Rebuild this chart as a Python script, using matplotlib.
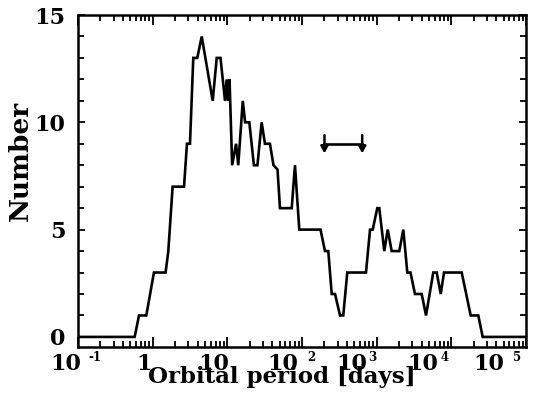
import numpy as np
import matplotlib
matplotlib.use("Agg")
import matplotlib.pyplot as plt
import matplotlib.transforms as mtransforms

# running count of systems vs orbital period
period = [0.1, 0.574, 0.656, 0.822, 1.04, 1.49, 1.62, 1.85, 2.63, 2.88, 3.16,
          3.50, 3.96, 4.54, 6.37, 7.21, 8.10, 9.31, 9.80, 10.2, 10.7, 11.6,
          13.1, 14.0, 16.1, 17.3, 19.7, 22.7, 25.3, 28.8, 31.9, 37.2, 41.5,
          47.0, 50.7, 72.8, 80.5, 92.0, 177, 203, 225, 250, 277, 323, 357,
          404, 719, 815, 885, 1019, 1084, 1265, 1406, 1589, 2009, 2275, 2572,
          2838, 3258, 4009, 4581, 5728, 6368, 7211, 7980, 13770, 18160,
          22960, 26300, 100000]
number = [0, 0, 1, 1, 3, 3, 4, 7, 7, 9, 9,
          13, 13, 14, 11, 13, 13, 11, 12, 11, 12, 8,
          9, 8, 11, 10, 10, 8, 8, 10, 9, 9, 8,
          7.8, 6, 6, 8, 5, 5, 4, 4, 2, 2, 1, 1,
          3, 3, 5, 5, 6, 6, 4, 5, 4, 4, 5, 3,
          3, 2, 2, 1, 3, 3, 2, 3, 3, 1,
          1, 0, 0]

# upper-limit marker
limit_period = [200, 640]
limit_level = 9.0
limit_top = 9.4
limit_tip = 8.55

# x tick labels: base, exponent and where they sit relative to the tick (px)
xtick_vals = [1e-1, 1, 10, 1e2, 1e3, 1e4, 1e5]
xtick_base = ['10', '1', '10', '10', '10', '10', '10']
xtick_exp = ['-1', '', '', '2', '3', '4', '5']
base_dx = [-28, -16, -29, -35, -40, -44, -53]
exp_dx = [10, 0, 0, 5, -9, -11, -13]

plt.rcParams['font.family'] = ['DejaVu Serif']
plt.rcParams['font.weight'] = 'bold'

fig = plt.figure(figsize=(5.52, 4.12), dpi=100)
ax = fig.add_axes([78 / 552, 1 - 347 / 412, 448 / 552, 332 / 412])

ax.plot(period, number, color='black', lw=1.9, solid_joinstyle='miter')

ax.plot(limit_period, [limit_level, limit_level], color='black', lw=1.9)
for p in limit_period:
    ax.annotate('', xy=(p, limit_tip), xytext=(p, limit_top),
                arrowprops=dict(arrowstyle='-|>,head_width=0.22,head_length=0.4',
                                color='black', lw=1.8, shrinkA=0, shrinkB=0))

ax.set_xscale('log')
ax.set_xlim(0.1, 1e5)
ax.set_ylim(-0.47, 15)

ax.set_xticks(xtick_vals)
ax.set_xticklabels([])
ax.xaxis.set_minor_locator(matplotlib.ticker.LogLocator(base=10, subs=np.arange(2, 10)))
ax.xaxis.set_minor_formatter(matplotlib.ticker.NullFormatter())

trans = mtransforms.blended_transform_factory(ax.transData, ax.transAxes)
for v, b, e, bdx, edx in zip(xtick_vals, xtick_base, xtick_exp, base_dx, exp_dx):
    off = mtransforms.ScaledTranslation(bdx / 100, 0, fig.dpi_scale_trans)
    ax.text(v, (347 - 370) / 332, b, transform=trans + off, ha='left',
            va='baseline', fontsize=16, fontweight='bold')
    if e:
        off = mtransforms.ScaledTranslation(edx / 100, 0, fig.dpi_scale_trans)
        ax.text(v, (347 - 351) / 332, e, transform=trans + off, ha='left',
                va='top', fontsize=8.5, fontweight='bold')

ax.set_yticks([0, 5, 10, 15])
ax.set_yticklabels(['0', '5', '10', '15'], fontsize=16)
ax.yaxis.set_minor_locator(matplotlib.ticker.MultipleLocator(1))

ax.tick_params(which='both', direction='in', top=True, right=True, width=1.3)
ax.tick_params(which='major', length=7)
ax.tick_params(which='minor', length=4)
ax.tick_params(axis='y', which='major', length=5, pad=9)
for s in ax.spines.values():
    s.set_linewidth(1.8)

ax.text(0.455, (347 - 383) / 332, 'Orbital period [days]', transform=ax.transAxes,
        ha='center', va='baseline', fontsize=16.5, fontweight='bold')
ax.set_ylabel('Number', fontsize=19, fontweight='bold')
ax.yaxis.set_label_coords(-0.10, 0.56)

fig.savefig('out.png', dpi=100)
